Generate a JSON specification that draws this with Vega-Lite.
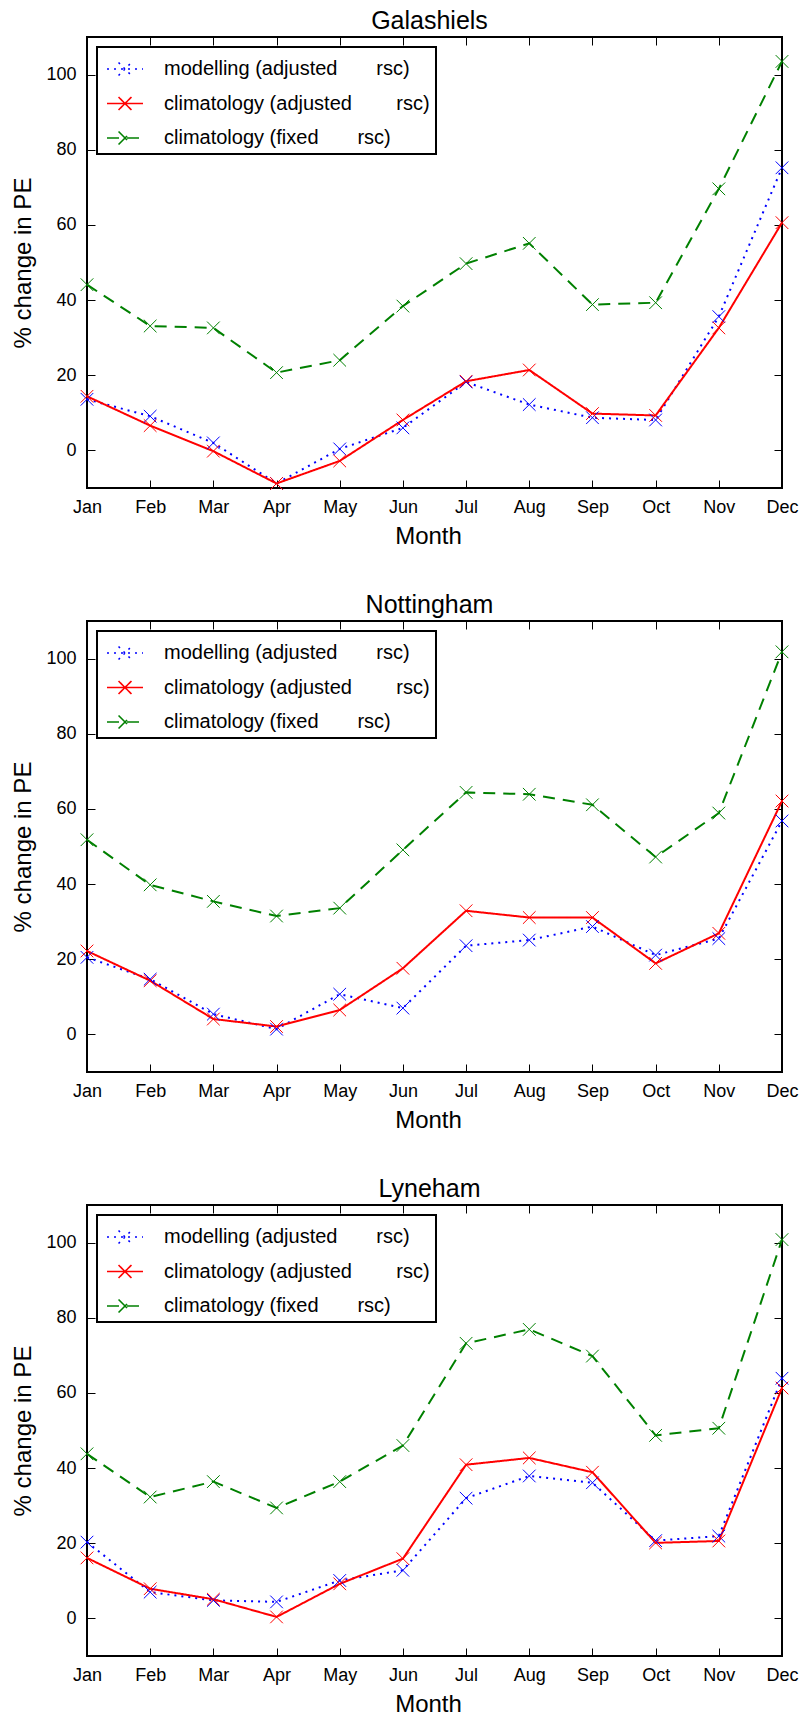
{
  "$schema": "https://vega.github.io/schema/vega-lite/v6.json",
  "padding": {"left": 10, "top": 7, "right": 5, "bottom": 5},
  "spacing": 133,
  "bounds": "flush",
  "data": {"values": [
    {"site":"Galashiels","s":"mod","m":1,"v":13.6},{"site":"Galashiels","s":"mod","m":2,"v":9.1},{"site":"Galashiels","s":"mod","m":3,"v":2.0},{"site":"Galashiels","s":"mod","m":4,"v":-8.8},{"site":"Galashiels","s":"mod","m":5,"v":0.4},{"site":"Galashiels","s":"mod","m":6,"v":6.0},{"site":"Galashiels","s":"mod","m":7,"v":18.2},{"site":"Galashiels","s":"mod","m":8,"v":12.2},{"site":"Galashiels","s":"mod","m":9,"v":8.7},{"site":"Galashiels","s":"mod","m":10,"v":8.1},{"site":"Galashiels","s":"mod","m":11,"v":35.6},{"site":"Galashiels","s":"mod","m":12,"v":75.2},
    {"site":"Galashiels","s":"clim","m":1,"v":14.4},{"site":"Galashiels","s":"clim","m":2,"v":6.6},{"site":"Galashiels","s":"clim","m":3,"v":-0.2},{"site":"Galashiels","s":"clim","m":4,"v":-8.8},{"site":"Galashiels","s":"clim","m":5,"v":-2.8},{"site":"Galashiels","s":"clim","m":6,"v":8.1},{"site":"Galashiels","s":"clim","m":7,"v":18.4},{"site":"Galashiels","s":"clim","m":8,"v":21.4},{"site":"Galashiels","s":"clim","m":9,"v":9.8},{"site":"Galashiels","s":"clim","m":10,"v":9.3},{"site":"Galashiels","s":"clim","m":11,"v":32.6},{"site":"Galashiels","s":"clim","m":12,"v":60.6},
    {"site":"Galashiels","s":"fix","m":1,"v":44.1},{"site":"Galashiels","s":"fix","m":2,"v":33.1},{"site":"Galashiels","s":"fix","m":3,"v":32.6},{"site":"Galashiels","s":"fix","m":4,"v":20.7},{"site":"Galashiels","s":"fix","m":5,"v":24.0},{"site":"Galashiels","s":"fix","m":6,"v":38.4},{"site":"Galashiels","s":"fix","m":7,"v":49.7},{"site":"Galashiels","s":"fix","m":8,"v":55.1},{"site":"Galashiels","s":"fix","m":9,"v":38.8},{"site":"Galashiels","s":"fix","m":10,"v":39.3},{"site":"Galashiels","s":"fix","m":11,"v":69.6},{"site":"Galashiels","s":"fix","m":12,"v":103.5},
    {"site":"Nottingham","s":"mod","m":1,"v":20.5},{"site":"Nottingham","s":"mod","m":2,"v":14.7},{"site":"Nottingham","s":"mod","m":3,"v":5.4},{"site":"Nottingham","s":"mod","m":4,"v":1.4},{"site":"Nottingham","s":"mod","m":5,"v":10.7},{"site":"Nottingham","s":"mod","m":6,"v":7.0},{"site":"Nottingham","s":"mod","m":7,"v":23.6},{"site":"Nottingham","s":"mod","m":8,"v":25.1},{"site":"Nottingham","s":"mod","m":9,"v":28.7},{"site":"Nottingham","s":"mod","m":10,"v":21.1},{"site":"Nottingham","s":"mod","m":11,"v":25.5},{"site":"Nottingham","s":"mod","m":12,"v":56.8},
    {"site":"Nottingham","s":"clim","m":1,"v":22.2},{"site":"Nottingham","s":"clim","m":2,"v":14.3},{"site":"Nottingham","s":"clim","m":3,"v":4.1},{"site":"Nottingham","s":"clim","m":4,"v":2.1},{"site":"Nottingham","s":"clim","m":5,"v":6.5},{"site":"Nottingham","s":"clim","m":6,"v":17.6},{"site":"Nottingham","s":"clim","m":7,"v":32.9},{"site":"Nottingham","s":"clim","m":8,"v":31.1},{"site":"Nottingham","s":"clim","m":9,"v":31.1},{"site":"Nottingham","s":"clim","m":10,"v":18.9},{"site":"Nottingham","s":"clim","m":11,"v":26.9},{"site":"Nottingham","s":"clim","m":12,"v":62.1},
    {"site":"Nottingham","s":"fix","m":1,"v":51.8},{"site":"Nottingham","s":"fix","m":2,"v":39.8},{"site":"Nottingham","s":"fix","m":3,"v":35.4},{"site":"Nottingham","s":"fix","m":4,"v":31.5},{"site":"Nottingham","s":"fix","m":5,"v":33.6},{"site":"Nottingham","s":"fix","m":6,"v":49.1},{"site":"Nottingham","s":"fix","m":7,"v":64.4},{"site":"Nottingham","s":"fix","m":8,"v":63.9},{"site":"Nottingham","s":"fix","m":9,"v":61.1},{"site":"Nottingham","s":"fix","m":10,"v":47.2},{"site":"Nottingham","s":"fix","m":11,"v":58.9},{"site":"Nottingham","s":"fix","m":12,"v":101.8},
    {"site":"Lyneham","s":"mod","m":1,"v":20.3},{"site":"Lyneham","s":"mod","m":2,"v":7.0},{"site":"Lyneham","s":"mod","m":3,"v":4.8},{"site":"Lyneham","s":"mod","m":4,"v":4.4},{"site":"Lyneham","s":"mod","m":5,"v":10.1},{"site":"Lyneham","s":"mod","m":6,"v":12.8},{"site":"Lyneham","s":"mod","m":7,"v":32.0},{"site":"Lyneham","s":"mod","m":8,"v":37.9},{"site":"Lyneham","s":"mod","m":9,"v":36.1},{"site":"Lyneham","s":"mod","m":10,"v":20.7},{"site":"Lyneham","s":"mod","m":11,"v":21.9},{"site":"Lyneham","s":"mod","m":12,"v":63.9},
    {"site":"Lyneham","s":"clim","m":1,"v":16.1},{"site":"Lyneham","s":"clim","m":2,"v":7.9},{"site":"Lyneham","s":"clim","m":3,"v":5.1},{"site":"Lyneham","s":"clim","m":4,"v":0.4},{"site":"Lyneham","s":"clim","m":5,"v":9.2},{"site":"Lyneham","s":"clim","m":6,"v":15.9},{"site":"Lyneham","s":"clim","m":7,"v":40.9},{"site":"Lyneham","s":"clim","m":8,"v":42.7},{"site":"Lyneham","s":"clim","m":9,"v":38.9},{"site":"Lyneham","s":"clim","m":10,"v":20.1},{"site":"Lyneham","s":"clim","m":11,"v":20.6},{"site":"Lyneham","s":"clim","m":12,"v":61.3},
    {"site":"Lyneham","s":"fix","m":1,"v":43.8},{"site":"Lyneham","s":"fix","m":2,"v":32.3},{"site":"Lyneham","s":"fix","m":3,"v":36.4},{"site":"Lyneham","s":"fix","m":4,"v":29.4},{"site":"Lyneham","s":"fix","m":5,"v":36.4},{"site":"Lyneham","s":"fix","m":6,"v":46.0},{"site":"Lyneham","s":"fix","m":7,"v":73.2},{"site":"Lyneham","s":"fix","m":8,"v":76.9},{"site":"Lyneham","s":"fix","m":9,"v":69.8},{"site":"Lyneham","s":"fix","m":10,"v":48.7},{"site":"Lyneham","s":"fix","m":11,"v":50.6},{"site":"Lyneham","s":"fix","m":12,"v":100.8}
  ]},
  "vconcat": [
    {
      "title": {"text": "Galashiels"},
      "width": 695, "height": 451,
      "transform": [{"filter": "datum.site == 'Galashiels'"}],
      "layer": [
        {
          "mark": {"type": "line", "strokeWidth": 2},
          "encoding": {
            "x": {"field": "m", "type": "quantitative", "scale": {"domain": [1, 12], "nice": false, "zero": false}, "axis": {"orient": "bottom", "title": "Month", "titleX": 341, "values": [1,2,3,4,5,6,7,8,9,10,11,12], "labelExpr": "['Jan','Feb','Mar','Apr','May','Jun','Jul','Aug','Sep','Oct','Nov','Dec'][datum.value-1]", "labelPadding": 18, "titlePadding": 8}},
            "y": {"field": "v", "type": "quantitative", "scale": {"domain": [-10, 110], "nice": false, "zero": false}, "axis": {"orient": "left", "title": "% change in PE", "values": [0,20,40,60,80,100], "labelPadding": 19, "titlePadding": 10}},
            "color": {"field": "s", "type": "nominal", "scale": {"domain": ["mod","clim","fix"], "range": ["#0000ff","#ff0000","#008000"]}, "legend": {"title": null, "symbolType": "M-1.2,0L1.2,0M-0.43,-0.43L0.43,0.43M-0.43,0.43L0.43,-0.43", "symbolSize": 900, "symbolStrokeWidth": 1.6, "labelExpr": "datum.value == 'mod' ? 'modelling (adjusted\u00a0\u00a0\u00a0\u00a0\u00a0\u00a0\u00a0rsc)\u00a0' : datum.value == 'clim' ? 'climatology (adjusted\u00a0\u00a0\u00a0\u00a0\u00a0\u00a0\u00a0\u00a0rsc)\u00a0' : 'climatology (fixed\u00a0\u00a0\u00a0\u00a0\u00a0\u00a0\u00a0rsc)\u00a0'"}},
            "strokeDash": {"field": "s", "type": "nominal", "scale": {"domain": ["mod","clim","fix"], "range": [[2,5],[1,0],[12,8]]}, "legend": {"title": null, "symbolType": "M-1.2,0L1.2,0M-0.43,-0.43L0.43,0.43M-0.43,0.43L0.43,-0.43", "symbolSize": 900, "symbolStrokeWidth": 1.6, "labelExpr": "datum.value == 'mod' ? 'modelling (adjusted\u00a0\u00a0\u00a0\u00a0\u00a0\u00a0\u00a0rsc)\u00a0' : datum.value == 'clim' ? 'climatology (adjusted\u00a0\u00a0\u00a0\u00a0\u00a0\u00a0\u00a0\u00a0rsc)\u00a0' : 'climatology (fixed\u00a0\u00a0\u00a0\u00a0\u00a0\u00a0\u00a0rsc)\u00a0'"}}
          }
        },
        {
          "mark": {"type": "point", "shape": "M-1,-1L1,1M-1,1L1,-1", "filled": false, "size": 160, "strokeWidth": 1, "opacity": 1},
          "encoding": {
            "x": {"field": "m", "type": "quantitative", "axis": {"orient": "top", "labels": false, "title": null, "values": [1,2,3,4,5,6,7,8,9,10,11,12]}},
            "y": {"field": "v", "type": "quantitative", "axis": {"orient": "right", "labels": false, "title": null, "values": [0,20,40,60,80,100]}},
            "color": {"field": "s", "type": "nominal", "legend": null}
          }
        }
      ],
      "resolve": {"axis": {"x": "independent", "y": "independent"}}
    },
    {
      "title": {"text": "Nottingham"},
      "width": 695, "height": 451,
      "transform": [{"filter": "datum.site == 'Nottingham'"}],
      "layer": [
        {
          "mark": {"type": "line", "strokeWidth": 2},
          "encoding": {
            "x": {"field": "m", "type": "quantitative", "scale": {"domain": [1, 12], "nice": false, "zero": false}, "axis": {"orient": "bottom", "title": "Month", "titleX": 341, "values": [1,2,3,4,5,6,7,8,9,10,11,12], "labelExpr": "['Jan','Feb','Mar','Apr','May','Jun','Jul','Aug','Sep','Oct','Nov','Dec'][datum.value-1]", "labelPadding": 18, "titlePadding": 8}},
            "y": {"field": "v", "type": "quantitative", "scale": {"domain": [-10, 110], "nice": false, "zero": false}, "axis": {"orient": "left", "title": "% change in PE", "values": [0,20,40,60,80,100], "labelPadding": 19, "titlePadding": 10}},
            "color": {"field": "s", "type": "nominal", "scale": {"domain": ["mod","clim","fix"], "range": ["#0000ff","#ff0000","#008000"]}, "legend": {"title": null, "symbolType": "M-1.2,0L1.2,0M-0.43,-0.43L0.43,0.43M-0.43,0.43L0.43,-0.43", "symbolSize": 900, "symbolStrokeWidth": 1.6, "labelExpr": "datum.value == 'mod' ? 'modelling (adjusted\u00a0\u00a0\u00a0\u00a0\u00a0\u00a0\u00a0rsc)\u00a0' : datum.value == 'clim' ? 'climatology (adjusted\u00a0\u00a0\u00a0\u00a0\u00a0\u00a0\u00a0\u00a0rsc)\u00a0' : 'climatology (fixed\u00a0\u00a0\u00a0\u00a0\u00a0\u00a0\u00a0rsc)\u00a0'"}},
            "strokeDash": {"field": "s", "type": "nominal", "scale": {"domain": ["mod","clim","fix"], "range": [[2,5],[1,0],[12,8]]}, "legend": {"title": null, "symbolType": "M-1.2,0L1.2,0M-0.43,-0.43L0.43,0.43M-0.43,0.43L0.43,-0.43", "symbolSize": 900, "symbolStrokeWidth": 1.6, "labelExpr": "datum.value == 'mod' ? 'modelling (adjusted\u00a0\u00a0\u00a0\u00a0\u00a0\u00a0\u00a0rsc)\u00a0' : datum.value == 'clim' ? 'climatology (adjusted\u00a0\u00a0\u00a0\u00a0\u00a0\u00a0\u00a0\u00a0rsc)\u00a0' : 'climatology (fixed\u00a0\u00a0\u00a0\u00a0\u00a0\u00a0\u00a0rsc)\u00a0'"}}
          }
        },
        {
          "mark": {"type": "point", "shape": "M-1,-1L1,1M-1,1L1,-1", "filled": false, "size": 160, "strokeWidth": 1, "opacity": 1},
          "encoding": {
            "x": {"field": "m", "type": "quantitative", "axis": {"orient": "top", "labels": false, "title": null, "values": [1,2,3,4,5,6,7,8,9,10,11,12]}},
            "y": {"field": "v", "type": "quantitative", "axis": {"orient": "right", "labels": false, "title": null, "values": [0,20,40,60,80,100]}},
            "color": {"field": "s", "type": "nominal", "legend": null}
          }
        }
      ],
      "resolve": {"axis": {"x": "independent", "y": "independent"}}
    },
    {
      "title": {"text": "Lyneham"},
      "width": 695, "height": 451,
      "transform": [{"filter": "datum.site == 'Lyneham'"}],
      "layer": [
        {
          "mark": {"type": "line", "strokeWidth": 2},
          "encoding": {
            "x": {"field": "m", "type": "quantitative", "scale": {"domain": [1, 12], "nice": false, "zero": false}, "axis": {"orient": "bottom", "title": "Month", "titleX": 341, "values": [1,2,3,4,5,6,7,8,9,10,11,12], "labelExpr": "['Jan','Feb','Mar','Apr','May','Jun','Jul','Aug','Sep','Oct','Nov','Dec'][datum.value-1]", "labelPadding": 18, "titlePadding": 8}},
            "y": {"field": "v", "type": "quantitative", "scale": {"domain": [-10, 110], "nice": false, "zero": false}, "axis": {"orient": "left", "title": "% change in PE", "values": [0,20,40,60,80,100], "labelPadding": 19, "titlePadding": 10}},
            "color": {"field": "s", "type": "nominal", "scale": {"domain": ["mod","clim","fix"], "range": ["#0000ff","#ff0000","#008000"]}, "legend": {"title": null, "symbolType": "M-1.2,0L1.2,0M-0.43,-0.43L0.43,0.43M-0.43,0.43L0.43,-0.43", "symbolSize": 900, "symbolStrokeWidth": 1.6, "labelExpr": "datum.value == 'mod' ? 'modelling (adjusted\u00a0\u00a0\u00a0\u00a0\u00a0\u00a0\u00a0rsc)\u00a0' : datum.value == 'clim' ? 'climatology (adjusted\u00a0\u00a0\u00a0\u00a0\u00a0\u00a0\u00a0\u00a0rsc)\u00a0' : 'climatology (fixed\u00a0\u00a0\u00a0\u00a0\u00a0\u00a0\u00a0rsc)\u00a0'"}},
            "strokeDash": {"field": "s", "type": "nominal", "scale": {"domain": ["mod","clim","fix"], "range": [[2,5],[1,0],[12,8]]}, "legend": {"title": null, "symbolType": "M-1.2,0L1.2,0M-0.43,-0.43L0.43,0.43M-0.43,0.43L0.43,-0.43", "symbolSize": 900, "symbolStrokeWidth": 1.6, "labelExpr": "datum.value == 'mod' ? 'modelling (adjusted\u00a0\u00a0\u00a0\u00a0\u00a0\u00a0\u00a0rsc)\u00a0' : datum.value == 'clim' ? 'climatology (adjusted\u00a0\u00a0\u00a0\u00a0\u00a0\u00a0\u00a0\u00a0rsc)\u00a0' : 'climatology (fixed\u00a0\u00a0\u00a0\u00a0\u00a0\u00a0\u00a0rsc)\u00a0'"}}
          }
        },
        {
          "mark": {"type": "point", "shape": "M-1,-1L1,1M-1,1L1,-1", "filled": false, "size": 160, "strokeWidth": 1, "opacity": 1},
          "encoding": {
            "x": {"field": "m", "type": "quantitative", "axis": {"orient": "top", "labels": false, "title": null, "values": [1,2,3,4,5,6,7,8,9,10,11,12]}},
            "y": {"field": "v", "type": "quantitative", "axis": {"orient": "right", "labels": false, "title": null, "values": [0,20,40,60,80,100]}},
            "color": {"field": "s", "type": "nominal", "legend": null}
          }
        }
      ],
      "resolve": {"axis": {"x": "independent", "y": "independent"}}
    }
  ],
  "resolve": {"legend": {"color": "independent", "strokeDash": "independent"}},
  "config": {
    "font": "Liberation Sans",
    "background": "white",
    "view": {"stroke": "black", "strokeWidth": 2},
    "axis": {"tickSize": -8, "tickColor": "black", "tickWidth": 1, "domain": false, "grid": false, "labelFontSize": 18, "labelColor": "black", "labelFlush": false, "labelOverlap": false, "titleFontSize": 24, "titleFontWeight": "normal", "titleColor": "black"},
    "title": {"fontSize": 25, "fontWeight": "normal", "color": "black", "offset": 3, "baseline": "alphabetic", "dx": -5},
    "legend": {"orient": "top-left", "offset": 10, "padding": 6, "symbolOffset": 6, "labelOffset": 23, "rowPadding": 8.5, "strokeColor": "black", "strokeWidth": 2, "fillColor": "white", "labelFontSize": 20, "labelColor": "black", "labelLimit": 500}
  }
}
